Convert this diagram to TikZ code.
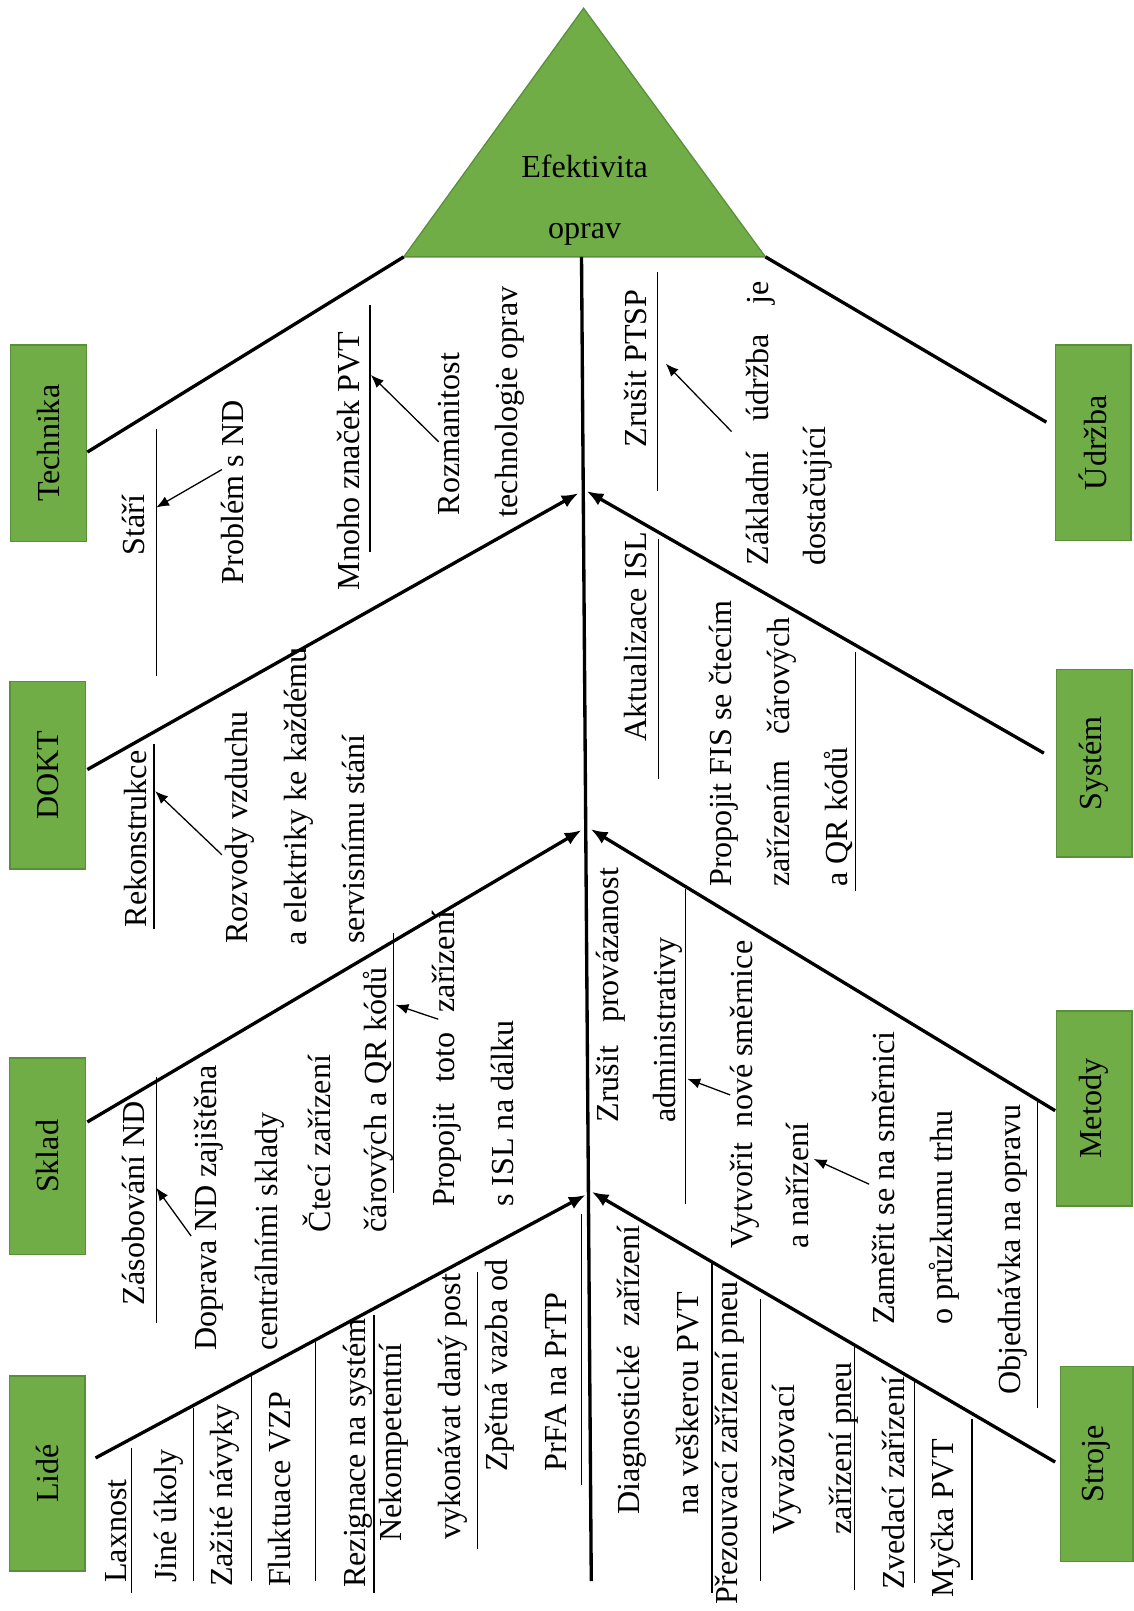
\documentclass[tikz,border=0pt]{standalone}
\usepackage{fontspec}
\setmainfont{Liberation Serif}
\usetikzlibrary{arrows.meta}
\definecolor{fishgreen}{HTML}{70AD47}
\definecolor{fishedge}{HTML}{5A8F3A}
\newcommand\fsz{\fontsize{12.5}{15}\selectfont}
\begin{document}
\begin{tikzpicture}[x=0.4pt,y=-0.4pt,
  bone/.style={line width=1.3pt},
  arrbone/.style={bone,-{Latex[length=6.5pt,width=5.2pt]}},
  twig/.style={line width=0.5pt},
  arrtwig/.style={twig,-{Latex[length=5pt,width=4pt]}},
  lbl/.style={rotate=90,anchor=base west,inner sep=0pt,font=\fsz},
  cat/.style={rotate=90,draw=fishedge,fill=fishgreen,line width=0.6pt,minimum height=29.5pt,inner sep=0pt,font=\fsz},
  head/.style={anchor=base,inner sep=0pt,font=\fsz}
]
\useasboundingbox (0,0) rectangle (1103,1568);

% head triangle
\coordinate (apex) at (568,8);
\coordinate (tl) at (393,250);
\coordinate (tr) at (745,250);
\fill[fishgreen,draw=fishedge,line width=0.5pt] (apex) -- (tl) -- (tr) -- cycle;
\node[head] (h1) at (569,173) {Efektivita};
\node[head] (h2) at (569,232) {oprav};

% spine
\coordinate (sp1) at (566,250);
\coordinate (sp2) at (575.5,1539);
\draw[bone] (sp1) -- (sp2);

% category boxes
\node[cat,minimum width=76.4pt] (tech) at (47.3,431.5) {Technika};
\node[cat,minimum width=73pt] (dokt) at (46.5,754.5) {DOKT};
\node[cat,minimum width=76.4pt] (sklad) at (46.2,1125.5) {Sklad};
\node[cat,minimum width=76pt] (lide) at (46,1434) {Lidé};
\node[cat,minimum width=76pt] (udr) at (1064,431) {Údržba};
\node[cat,minimum width=73pt] (sys) at (1065,743) {Systém};
\node[cat,minimum width=76pt] (met) at (1065,1079) {Metody};
\node[cat,minimum width=76pt,minimum height=28.4pt] (str) at (1067.5,1425) {Stroje};

% main bones
\coordinate (techB) at (85,440);
\coordinate (doktB) at (85,749);  \coordinate (doktE) at (563,480);
\coordinate (skladB) at (85,1092); \coordinate (skladE) at (566,808);
\coordinate (lideB) at (93,1419);  \coordinate (lideE) at (570,1163);
\coordinate (udrB) at (1018.4,410.9);
\coordinate (sysB) at (1016,733);  \coordinate (sysE) at (571,478);
\coordinate (metB) at (1027,1081); \coordinate (metE) at (575,807);
\coordinate (strB) at (1027,1423); \coordinate (strE) at (576,1160);
\draw[bone] (techB) -- (tl);
\draw[bone] (tr) -- (udrB);
\draw[arrbone] (doktB) -- (doktE);
\draw[arrbone] (skladB) -- (skladE);
\draw[arrbone] (lideB) -- (lideE);
\draw[arrbone] (sysB) -- (sysE);
\draw[arrbone] (metB) -- (metE);
\draw[arrbone] (strB) -- (strE);

% underlines (sub-bones)
\foreach \x/\ya/\yb in {152/418/658, 360/297/537, 640/265/478, 150/724/904,
  152/1048/1288, 383/908/1161, 128/1409/1550, 188/1370/1539, 245/1339/1539,
  307/1306/1539, 364/1280/1550, 465/1238/1508, 566/1182/1445, 641/525/758,
  833/635/867, 667/865/1172, 1010/1073/1370, 693/1228/1550, 740/1264/1539,
  832/1309/1548, 890/1342/1541, 946/1381/1538}
  \draw[twig] (\x,\ya) -- (\x,\yb);

% Technika
\node[lbl] (t1) at (141,541) {Stáří};
\node[lbl] (t2) at (237,569) {Problém s ND};
\node[lbl] (t3) at (350,575) {Mnoho značek PVT};
\node[lbl] (t4) at (447,502) {Rozmanitost};
\node[lbl] (t5) at (504,504) {technologie oprav};
% Údržba
\node[lbl] (u1) at (629,436) {Zrušit PTSP};
\node[lbl] (u2) at (748,551) {\hbox to 110.6pt{Základní \hfill údržba \hfill je}};
\node[lbl] (u3) at (803,551) {dostačující};
% DOKT
\node[lbl] (d1) at (143,903) {Rekonstrukce};
\node[lbl] (d2) at (241,919) {Rozvody vzduchu};
\node[lbl] (d3) at (298,921) {a elektriky ke každému};
\node[lbl] (d4) at (355,919) {servisnímu stání};
% Sklad
\node[lbl] (s1) at (141,1271) {Zásobování ND};
\node[lbl] (s2) at (211,1315) {Doprava ND zajištěna};
\node[lbl] (s3) at (270,1315) {centrálními sklady};
\node[lbl] (s4) at (322,1200) {Čtecí zařízení};
\node[lbl] (s5) at (376,1200) {čárových a QR kódů};
\node[lbl] (s6) at (442,1175) {\hbox to 115.2pt{Propojit \hfill toto \hfill zařízení}};
\node[lbl] (s7) at (500,1175) {s ISL na dálku};
% Lidé
\node[lbl] (l1) at (123,1541) {Laxnost};
\node[lbl] (l2) at (172,1541) {Jiné úkoly};
\node[lbl] (l3) at (226,1545) {Zažité návyky};
\node[lbl] (l4) at (283,1545) {Fluktuace VZP};
\node[lbl] (l5) at (356,1546) {Rezignace na systém};
\node[lbl] (l6) at (391,1501) {Nekompetentní};
\node[lbl] (l7) at (448,1499) {vykonávat daný post};
\node[lbl] (l8) at (494,1433) {Zpětná vazba od};
\node[lbl] (l9) at (551,1433) {PrFA na PrTP};
% Systém
\node[lbl] (y1) at (629,722) {Aktualizace ISL};
\node[lbl] (y2) at (712,863.5) {Propojit FIS se čtecím};
\node[lbl] (y3) at (768,863.5) {\hbox to 105pt{zařízením \hfill čárových}};
\node[lbl] (y4) at (825,863.5) {a QR kódů};
% Metody
\node[lbl] (m1) at (602,1093) {\hbox to 99.2pt{Zrušit \hfill provázanost}};
\node[lbl] (m2) at (657,1093) {administrativy};
\node[lbl] (m3) at (732,1215.5) {Vytvořit\hspace{0.5em}nové směrnice};
\node[lbl] (m4) at (787,1215.5) {a nařízení};
\node[lbl] (m5) at (871,1290) {Zaměřit se na směrnici};
\node[lbl] (m6) at (927,1290) {o průzkumu trhu};
\node[lbl] (m7) at (993,1358) {Objednávka na opravu};
% Stroje
\node[lbl] (r1) at (622,1475) {\hbox to 112.8pt{Diagnostické \hfill zařízení}};
\node[lbl] (r2) at (680,1475) {na veškerou PVT};
\node[lbl] (r3) at (718,1562) {Přezouvací zařízení pneu};
\node[lbl] (r4) at (773,1494) {Vyvažovací};
\node[lbl] (r5) at (829,1494) {zařízení pneu};
\node[lbl] (r6) at (880,1548) {Zvedací zařízení};
\node[lbl] (r7) at (928,1555) {Myčka PVT};

% thin arrows
\coordinate (a1s) at (216,457);   \coordinate (a1e) at (152,494);
\coordinate (a2s) at (427,430);   \coordinate (a2e) at (361,365);
\coordinate (a3s) at (712,420);   \coordinate (a3e) at (648,354);
\coordinate (a4s) at (216,832);   \coordinate (a4e) at (151,770);
\coordinate (a5s) at (186,1203);  \coordinate (a5e) at (152,1156);
\coordinate (a6s) at (426.5,992); \coordinate (a6e) at (385,978);
\coordinate (a7s) at (710.7,1065.7); \coordinate (a7e) at (669,1050);
\coordinate (a8s) at (846,1152.6); \coordinate (a8e) at (792,1128);
\foreach \i in {1,...,8} \draw[arrtwig] (a\i s) -- (a\i e);
\end{tikzpicture}
\end{document}
